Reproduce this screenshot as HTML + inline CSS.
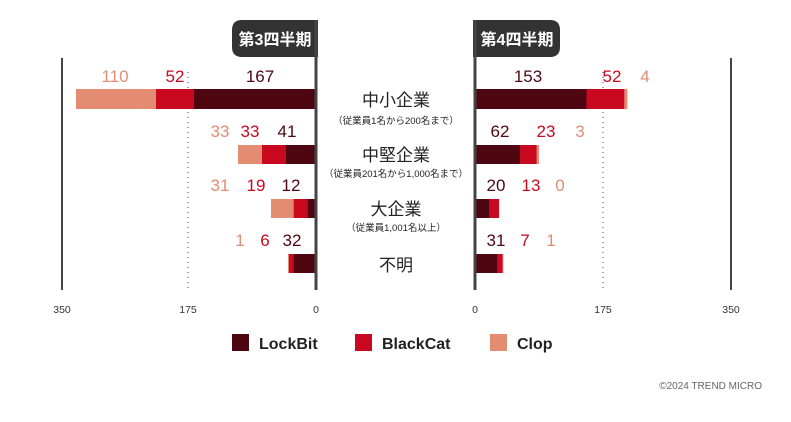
<!DOCTYPE html>
<html><head><meta charset="utf-8"><style>
body{margin:0;background:#fff}
svg{display:block;font-family:"Liberation Sans","Noto Sans CJK JP",sans-serif}
</style></head><body>
<svg width="791" height="422" viewBox="0 0 791 422" xmlns="http://www.w3.org/2000/svg">
<path d="M242 20 H318 V57 H242 Q232 57 232 47 V30 Q232 20 242 20Z" fill="#333"/>
<text x="275" y="45" font-size="16" fill="#fff" text-anchor="middle" font-weight="bold">第3四半期</text>
<path d="M473 20 H550 Q560 20 560 30 V47 Q560 57 550 57 H473Z" fill="#333"/>
<text x="517" y="45" font-size="16" fill="#fff" text-anchor="middle" font-weight="bold">第4四半期</text>
<line x1="62" y1="58" x2="62" y2="290" stroke="#444" stroke-width="2"/>
<line x1="731" y1="58" x2="731" y2="290" stroke="#444" stroke-width="2"/>
<line x1="188" y1="72" x2="188" y2="290" stroke="#444" stroke-width="1" stroke-dasharray="1,4"/>
<line x1="603" y1="72" x2="603" y2="290" stroke="#444" stroke-width="1" stroke-dasharray="1,4"/>
<g>
<rect x="76" y="89" width="80" height="20" fill="#e38c72"/>
<rect x="156" y="89" width="38" height="20" fill="#c8091f"/>
<rect x="194" y="89" width="122" height="20" fill="#4e0610"/>
<rect x="238" y="145" width="24" height="19" fill="#e38c72"/>
<rect x="262" y="145" width="24" height="19" fill="#c8091f"/>
<rect x="286" y="145" width="30" height="19" fill="#4e0610"/>
<rect x="271" y="199" width="22.6" height="19" fill="#e38c72"/>
<rect x="293.6" y="199" width="13.8" height="19" fill="#c8091f"/>
<rect x="307.4" y="199" width="8.6" height="19" fill="#4e0610"/>
<rect x="288" y="254" width="1" height="19" fill="#e38c72"/>
<rect x="289" y="254" width="4.4" height="19" fill="#c8091f"/>
<rect x="293.4" y="254" width="22.6" height="19" fill="#4e0610"/>
</g>
<g>
<rect x="475" y="89" width="111.5" height="20" fill="#4e0610"/>
<rect x="586.5" y="89" width="37.9" height="20" fill="#c8091f"/>
<rect x="624.4" y="89" width="3" height="20" fill="#e38c72"/>
<rect x="475" y="145" width="45" height="19" fill="#4e0610"/>
<rect x="520" y="145" width="16.8" height="19" fill="#c8091f"/>
<rect x="536.8" y="145" width="2.2" height="19" fill="#e38c72"/>
<rect x="475" y="199" width="14.6" height="19" fill="#4e0610"/>
<rect x="489.6" y="199" width="9.5" height="19" fill="#c8091f"/>
<rect x="475" y="254" width="22.6" height="19" fill="#4e0610"/>
<rect x="497.6" y="254" width="5.1" height="19" fill="#c8091f"/>
<rect x="502.7" y="254" width="0.7" height="19" fill="#e38c72"/>
</g>
<line x1="316" y1="20" x2="316" y2="290" stroke="#444" stroke-width="3"/>
<line x1="475" y1="20" x2="475" y2="290" stroke="#444" stroke-width="3"/>
<g font-size="17" text-anchor="middle">
<text x="115" y="82" fill="#e38c72">110</text>
<text x="175" y="82" fill="#c8091f">52</text>
<text x="260" y="82" fill="#4e0610">167</text>
<text x="220" y="137" fill="#e38c72">33</text>
<text x="250" y="137" fill="#c8091f">33</text>
<text x="287" y="137" fill="#4e0610">41</text>
<text x="220" y="191" fill="#e38c72">31</text>
<text x="256" y="191" fill="#c8091f">19</text>
<text x="291" y="191" fill="#4e0610">12</text>
<text x="240" y="246" fill="#e38c72">1</text>
<text x="265" y="246" fill="#c8091f">6</text>
<text x="292" y="246" fill="#4e0610">32</text>
<text x="528" y="82" fill="#4e0610">153</text>
<text x="612" y="82" fill="#c8091f">52</text>
<text x="645" y="82" fill="#e38c72">4</text>
<text x="500" y="137" fill="#4e0610">62</text>
<text x="546" y="137" fill="#c8091f">23</text>
<text x="580" y="137" fill="#e38c72">3</text>
<text x="496" y="191" fill="#4e0610">20</text>
<text x="531" y="191" fill="#c8091f">13</text>
<text x="560" y="191" fill="#e38c72">0</text>
<text x="496" y="246" fill="#4e0610">31</text>
<text x="525" y="246" fill="#c8091f">7</text>
<text x="551" y="246" fill="#e38c72">1</text>
</g>
<g text-anchor="middle" fill="#222">
<text x="396" y="106" font-size="17">中小企業</text>
<text x="396" y="124" font-size="9.5">（従業員1名から200名まで）</text>
<text x="396" y="161" font-size="17">中堅企業</text>
<text x="396" y="177" font-size="9.5">（従業員201名から1,000名まで）</text>
<text x="396" y="215" font-size="17">大企業</text>
<text x="396" y="231" font-size="9.5">（従業員1,001名以上）</text>
<text x="396" y="271" font-size="17">不明</text>
</g>
<g font-size="10.5" fill="#333" text-anchor="middle">
<text x="62" y="313">350</text><text x="188" y="313">175</text><text x="316" y="313">0</text>
<text x="475" y="313">0</text><text x="603" y="313">175</text><text x="731" y="313">350</text>
</g>
<g font-size="16" font-weight="bold" fill="#222">
<rect x="232" y="334" width="17" height="17" fill="#4e0610"/><text x="259" y="349">LockBit</text>
<rect x="355" y="334" width="17" height="17" fill="#c8091f"/><text x="382" y="349">BlackCat</text>
<rect x="490" y="334" width="17" height="17" fill="#e38c72"/><text x="517" y="349">Clop</text>
</g>
<text x="762" y="389" font-size="10" fill="#666" text-anchor="end">©2024 TREND MICRO</text>
</svg>
</body></html>
